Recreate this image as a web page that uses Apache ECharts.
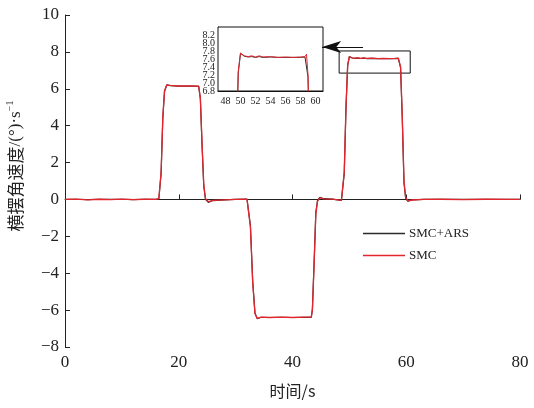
<!DOCTYPE html>
<html>
<head>
<meta charset="utf-8">
<script src="https://cdn.jsdelivr.net/npm/echarts@6/dist/echarts.min.js"></script>
<style>
  html, body { margin: 0; padding: 0; background: #fff; }
  #chart-container { width: 534px; height: 408px; }
</style>
</head>
<body>
<div id="chart-container"></div>
<script>
// 时间/s, 横摆角速度
let smcData = [
    [0, 0], [2, 0.02], [4, -0.02], [6, 0.01], [8, -0.01], [10, 0.02], [12, -0.01], [14, 0.01], [16, 0],
    [16.5, 0.05], [16.9, 1.5], [17.2, 4.5], [17.5, 5.9], [17.9, 6.2], [18.5, 6.18], [20, 6.15], [22, 6.15],
    [23.5, 6.14], [23.8, 5.5], [24.1, 3], [24.4, 0.8], [24.7, 0.05], [25.2, -0.12], [26, -0.05], [28, -0.02],
    [30, 0], [32, 0.02], [32.3, 0.06], [32.6, -1.5], [33.0, -4.5], [33.4, -6.2], [33.8, -6.45], [34.5, -6.38],
    [36, -6.4], [38, -6.38], [40, -6.4], [42, -6.38], [43.3, -6.38], [43.5, -6.0], [43.8, -3.5], [44.1, -0.8],
    [44.4, -0.1], [44.8, 0.08], [45.5, 0.03], [47, 0.02], [48.6, -0.05], [48.9, -0.15], [49.1, 1.5],
    [49.4, 5], [49.7, 7.3], [50.0, 7.75], [50.5, 7.68], [51, 7.66], [51.5, 7.68], [52, 7.65], [52.5, 7.68],
    [53, 7.65], [54, 7.66], [55, 7.64], [56, 7.65], [57, 7.64], [58, 7.65], [58.6, 7.66], [58.8, 7.72],
    [59.0, 7.2], [59.3, 4.5], [59.6, 1], [59.9, 0.1], [60.3, -0.08], [61, -0.03], [63, 0], [66, 0.01],
    [70, -0.01], [74, 0.01], [78, 0], [80, 0]
];
let arsData = [
    [0, 0], [2, 0.01], [4, -0.01], [6, 0.01], [8, 0], [10, 0.01], [12, -0.01], [14, 0.01], [16, 0],
    [16.5, 0.04], [16.9, 1.4], [17.2, 4.4], [17.5, 5.85], [17.9, 6.22], [18.5, 6.17], [20, 6.14], [22, 6.15],
    [23.5, 6.13], [23.8, 5.45], [24.1, 2.9], [24.4, 0.7], [24.7, 0], [25.2, -0.16], [26, -0.06], [28, -0.02],
    [30, 0], [32, 0.02], [32.3, 0.07], [32.6, -1.4], [33.0, -4.4], [33.4, -6.15], [33.8, -6.47], [34.5, -6.39],
    [36, -6.4], [38, -6.39], [40, -6.4], [42, -6.39], [43.3, -6.39], [43.5, -5.95], [43.8, -3.4], [44.1, -0.7],
    [44.4, -0.05], [44.8, 0.12], [45.5, 0.04], [47, 0.02], [48.6, -0.05], [48.9, -0.14], [49.1, 1.4],
    [49.4, 4.9], [49.7, 7.25], [50.0, 7.74], [50.5, 7.67], [51, 7.65], [51.5, 7.66], [52, 7.64], [52.5, 7.66],
    [53, 7.64], [54, 7.65], [55, 7.64], [56, 7.64], [57, 7.64], [58, 7.64], [58.6, 7.65], [58.8, 7.7],
    [59.0, 7.15], [59.3, 4.4], [59.6, 0.9], [59.9, 0.05], [60.3, -0.1], [61, -0.03], [63, 0], [66, 0.01],
    [70, 0], [74, 0.01], [78, 0], [80, 0]
];
let seriesNames = ["SMC+ARS", "SMC"];
let insetXTicks = [48, 50, 52, 54, 56, 58, 60];
let insetYTicks = [6.8, 7.0, 7.2, 7.4, 7.6, 7.8, 8.0, 8.2];
// inset y labels split over two label rows so none gets hidden
let insetYLabelsA = [6.8, 7.2, 7.6, 8.0];
let insetYLabelsB = [7.0, 7.4, 7.8, 8.2];
let zoomBox = [[48.2, 8.05], [60.7, 6.85]];
let arrowLine = [[52.4, 8.27], [45.2, 8.27]];

let dom = document.getElementById("chart-container");
let myChart = echarts.init(dom, null, {
    renderer: "canvas",
    useDirtyRect: false,
});

let serif = "'Liberation Serif', 'Times New Roman', serif";
let cjk = "'Noto Sans CJK SC'";
let axisColor = "#222";
let redColor = "#e3262e";
let blackColor = "#2b2b2b";

function insetYLabel(values) {
    return {
        fontFamily: serif,
        fontSize: 10,
        color: axisColor,
        margin: 3,
        customValues: values,
        showMinLabel: true,
        showMaxLabel: true,
        hideOverlap: false,
        formatter: function (v) {
            return v.toFixed(1);
        },
    };
}

let option = {
    backgroundColor: "#fff",
    animation: false,
    legend: {
        data: seriesNames,
        orient: "vertical",
        left: 363,
        top: 227,
        padding: 0,
        icon: "rect",
        itemWidth: 42,
        itemHeight: 1.5,
        itemGap: 9,
        textStyle: {
            fontFamily: serif,
            fontSize: 13,
            color: axisColor,
            padding: [0, 0, 0, -1],
        },
    },
    grid: [{
        left: 65,
        right: 14,
        top: 15,
        bottom: 61,
        containLabel: false,
        outerBoundsMode: "none",
    }, {
        left: 218,
        top: 27,
        width: 105,
        height: 64,
        show: true,
        borderColor: "#111",
        borderWidth: 1,
        backgroundColor: "#fff",
        containLabel: false,
        outerBoundsMode: "none",
        z: 5,
    }, ],
    xAxis: [{
        type: "value",
        min: 0,
        max: 80,
        interval: 20,
        name: "时间/s",
        nameLocation: "middle",
        nameGap: 36,
        nameTextStyle: {
            fontFamily: cjk,
            fontSize: 16,
            color: axisColor,
        },
        axisLine: { lineStyle: { color: axisColor, width: 1 } },
        axisTick: { inside: true, length: 5, lineStyle: { color: axisColor } },
        axisLabel: {
            fontFamily: serif,
            fontSize: 17,
            color: axisColor,
            margin: 7,
        },
        splitLine: { show: false },
    }, {
        type: "value",
        gridIndex: 1,
        min: 47,
        max: 61,
        axisLine: { lineStyle: { color: "#111", width: 1 } },
        axisTick: {
            inside: true,
            length: 3,
            customValues: insetXTicks,
            lineStyle: { color: "#111" },
        },
        axisLabel: {
            fontFamily: serif,
            fontSize: 10,
            color: axisColor,
            margin: 5,
            customValues: insetXTicks,
            showMinLabel: true,
            showMaxLabel: true,
        },
        splitLine: { show: false },
    }, ],
    yAxis: [{
        type: "value",
        min: -8,
        max: 10,
        interval: 2,
        name: "{a|横摆角速度}{c|/(°)·s}{b|−1}",
        nameLocation: "middle",
        nameRotate: 90,
        nameGap: 38,
        nameTextStyle: {
            padding: [0, 0, 0, 30],
            rich: {
                a: { fontFamily: cjk, fontSize: 17, color: axisColor, lineHeight: 22 },
                c: { fontFamily: serif, fontSize: 17, color: axisColor, lineHeight: 22 },
                b: { fontFamily: serif, fontSize: 10, color: axisColor, verticalAlign: "top", lineHeight: 22, padding: [0, 0, 6, 0] },
            },
        },
        axisLine: { lineStyle: { color: axisColor, width: 1 } },
        axisTick: { inside: true, length: 5, lineStyle: { color: axisColor } },
        axisLabel: {
            fontFamily: serif,
            fontSize: 17,
            color: axisColor,
            margin: 6,
            formatter: function (v) {
                return v < 0 ? "\u2212" + Math.abs(v) : String(v);
            },
        },
        splitLine: { show: false },
    }, {
        type: "value",
        gridIndex: 1,
        min: 6.8,
        max: 8.4,
        position: "left",
        axisLine: { lineStyle: { color: "#111", width: 1 } },
        axisTick: {
            inside: true,
            length: 3,
            customValues: insetYTicks,
            lineStyle: { color: "#111" },
        },
        axisLabel: insetYLabel(insetYLabelsA),
        splitLine: { show: false },
    }, {
        type: "value",
        gridIndex: 1,
        min: 6.8,
        max: 8.4,
        position: "left",
        offset: 0,
        axisLine: { show: false },
        axisTick: { show: false },
        axisLabel: insetYLabel(insetYLabelsB),
        splitLine: { show: false },
    }, ],
    series: [{
        name: "SMC+ARS",
        type: "line",
        data: arsData,
        symbol: "none",
        color: blackColor,
        lineStyle: { color: blackColor, width: 1.2 },
        z: 2,
        markLine: {
            silent: true,
            symbol: ["none", "arrow"],
            symbolSize: [9, 19],
            label: { show: false },
            lineStyle: { color: "#111", width: 1.2, type: "solid" },
            data: [[{ coord: arrowLine[0] }, { coord: arrowLine[1] }]],
        },
    }, {
        name: "SMC",
        type: "line",
        data: smcData,
        symbol: "none",
        color: redColor,
        lineStyle: { color: redColor, width: 1.3 },
        z: 3,
        markArea: {
            silent: true,
            itemStyle: { color: "rgba(0,0,0,0)", borderColor: "#111", borderWidth: 1 },
            data: [[{ coord: zoomBox[0] }, { coord: zoomBox[1] }]],
        },
    }, {
        name: "SMC+ARS",
        type: "line",
        xAxisIndex: 1,
        yAxisIndex: 1,
        data: arsData,
        symbol: "none",
        clip: true,
        color: blackColor,
        lineStyle: { color: blackColor, width: 1 },
        z: 6,
    }, {
        name: "SMC",
        type: "line",
        xAxisIndex: 1,
        yAxisIndex: 1,
        data: smcData,
        symbol: "none",
        clip: true,
        color: redColor,
        lineStyle: { color: redColor, width: 1 },
        z: 7,
    }, ],
};

if (option && typeof option === "object") {
    myChart.setOption(option);
}

window.addEventListener("resize", myChart.resize);
</script>
</body>
</html>
